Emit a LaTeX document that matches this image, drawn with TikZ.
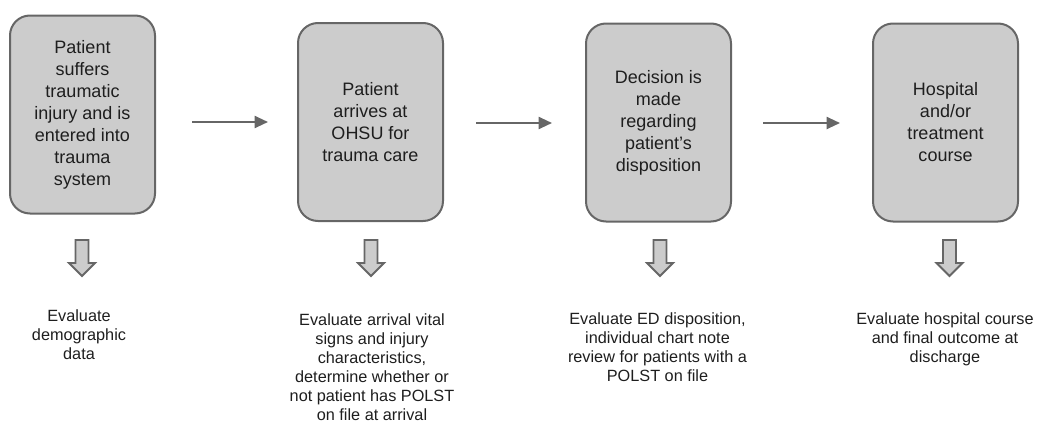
\documentclass[tikz,border=0pt]{standalone}
\usepackage{fontspec}
\setmainfont{Liberation Sans}
\usetikzlibrary{arrows.meta}
\definecolor{boxfill}{HTML}{CCCCCC}
\definecolor{boxline}{HTML}{666666}
\definecolor{txt}{HTML}{1E1E1E}
\begin{document}
\begin{tikzpicture}[x=0.75pt,y=-0.75pt,
  stage/.style={draw=boxline, fill=boxfill, line width=1.5pt, rounded corners=15pt,
    minimum width=108.75pt, minimum height=148.5pt, align=center,
    font=\fontsize{13.5}{16.5}\selectfont, text=txt, inner sep=0pt},
  evaltext/.style={align=center, anchor=north, inner sep=0pt, text=txt,
    font=\fontsize{12.2}{14.25}\selectfont},
  flowarrow/.style={draw=boxline, line width=1.5pt, -{Triangle[length=10pt,width=9pt]}},
  blockarrow/.style={draw=boxline, fill=boxfill, line width=1.4pt, line join=miter},
  downarrow/.pic={\path[blockarrow] (-6.5,0) -- (6.5,0) -- (6.5,23) -- (13,23) -- (0,36) -- (-13,23) -- (-6.5,23) -- cycle;}
]
\useasboundingbox (0,0) rectangle (1038,421);

% stages
\node[stage] (b1) at (82.5,114.5) {Patient\\suffers\\traumatic\\injury and is\\entered into\\trauma\\system};
\node[stage] (b2) at (370.5,122) {Patient\\arrives at\\OHSU for\\trauma care};
\node[stage] (b3) at (658.5,122.5) {Decision is\\made\\regarding\\patient's\\disposition};
\node[stage] (b4) at (945.5,122.5) {Hospital\\and/or\\treatment\\course};

% horizontal arrows
\coordinate (a1s) at (192,122); \coordinate (a1e) at (268,122);
\coordinate (a2s) at (476,123); \coordinate (a2e) at (552,123);
\coordinate (a3s) at (763,123); \coordinate (a3e) at (840,123);
\draw[flowarrow] (a1s) -- (a1e);
\draw[flowarrow] (a2s) -- (a2e);
\draw[flowarrow] (a3s) -- (a3e);

% down block arrows
\pic (d1) at (82,240) {downarrow};
\pic (d2) at (371,240) {downarrow};
\pic (d3) at (660,240) {downarrow};
\pic (d4) at (949.5,240) {downarrow};

% evaluation texts
\node[evaltext] (t1) at (79,309) {Evaluate\\demographic\\data};
\node[evaltext] (t2) at (372,313) {Evaluate arrival vital\\signs and injury\\characteristics,\\determine whether or\\not patient has POLST\\on file at arrival};
\node[evaltext] (t3) at (657.5,312) {Evaluate ED disposition,\\individual chart note\\review for patients with a\\POLST on file};
\node[evaltext] (t4) at (945,312) {Evaluate hospital course\\and final outcome at\\discharge};
\end{tikzpicture}
\end{document}
